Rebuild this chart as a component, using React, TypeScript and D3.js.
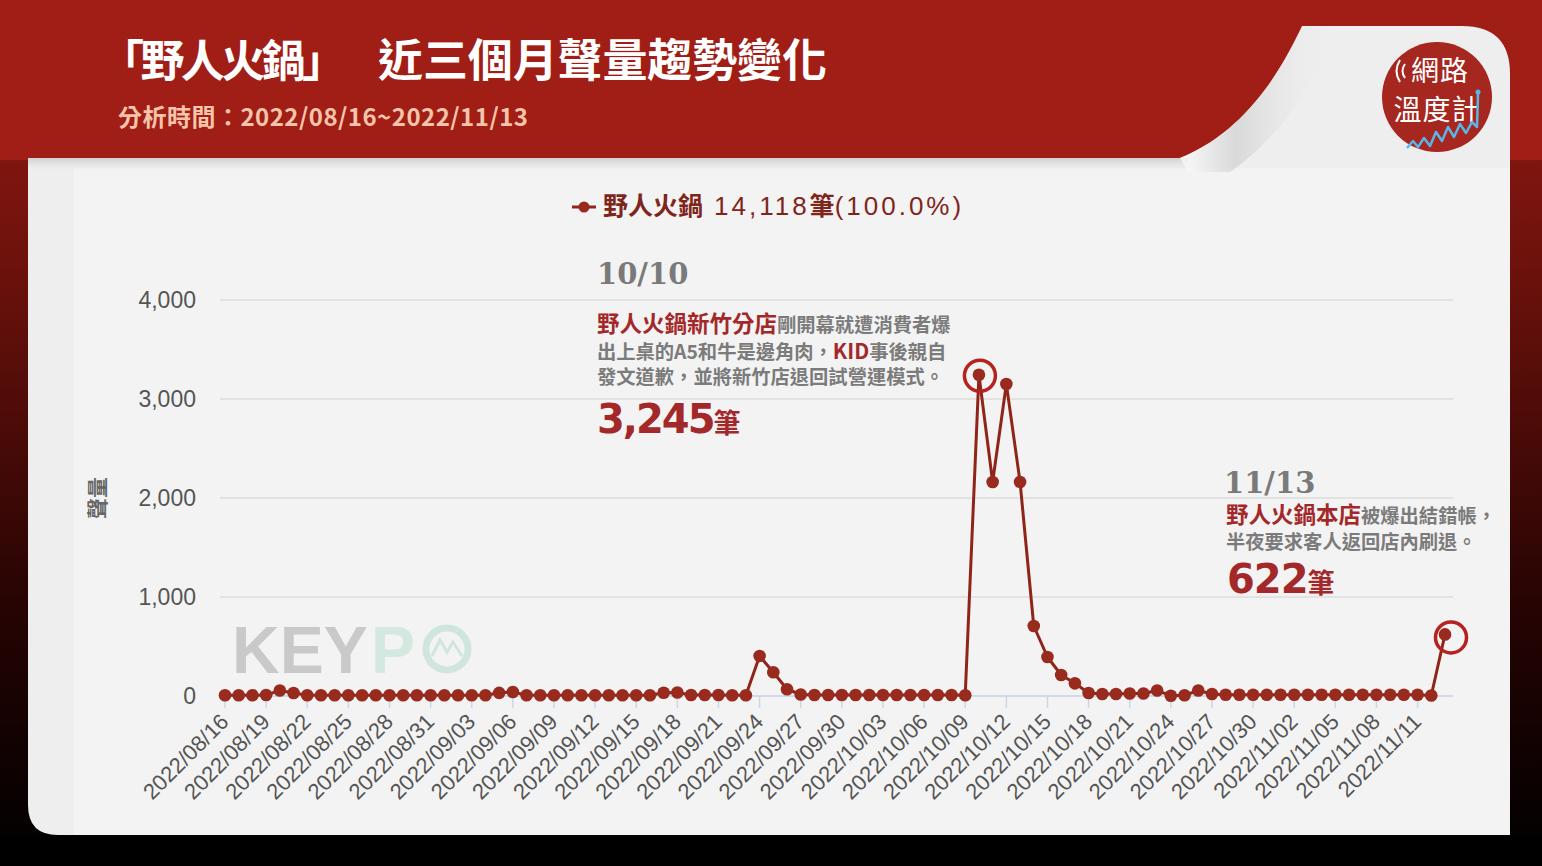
import React from "react";
import * as d3 from "d3";

const W = 1542;
const H = 866;

const startDate = new Date(2022, 7, 16);
const endDate = new Date(2022, 10, 14);
const fmt = d3.timeFormat("%Y/%m/%d");
const dates: string[] = d3.timeDay.range(startDate, endDate).map((d) => fmt(d));

const volume: number[] = [
  8, 8, 8, 10, 55, 30, 8, 8, 8, 8,
  8, 8, 8, 8, 8, 8, 8, 8, 8, 8,
  32, 40, 8, 8, 8, 8, 8, 8, 8, 8,
  8, 8, 33, 35, 10, 10, 10, 8, 8, 404,
  240, 68, 15, 10, 10, 10, 10, 10, 10, 10,
  10, 10, 10, 10, 8, 3245, 2162, 3152, 2162, 707,
  394, 212, 128, 30, 20, 20, 25, 25, 55, 3,
  8, 55, 20, 12, 12, 12, 12, 12, 12, 12,
  12, 12, 12, 12, 12, 12, 12, 12, 5, 622,
];

const yTicks: number[] = [0, 1000, 2000, 3000, 4000];
const seriesName = "野人火鍋";
const legendCount = "14,118";
const legendPct = "(100.0%)";
const titleA = "「野人火鍋」";
const titleB = "近三個月聲量趨勢變化";
const subtitle = "分析時間：2022/08/16~2022/11/13";
const yTitle = "聲量";

const CJK = "'Noto Sans CJK TC', 'Noto Sans CJK SC', sans-serif";
const SANS = "'Liberation Sans', Arial, 'Noto Sans CJK TC', sans-serif";

export default function App() {
  const x = d3.scalePoint<string>().domain(dates).range([225, 1445]);
  const y = d3.scaleLinear().domain([0, 4000]).range([696, 300]);
  const pts = dates.map((d, i) => [x(d) as number, y(volume[i])] as [number, number]);
  const line = d3.line<[number, number]>()(pts) || "";
  const tickDates = dates.filter((_, i) => i % 3 === 0);

  const iPeak = dates.indexOf("2022/10/10");
  const iLast = dates.indexOf("2022/11/13");
  const pPeak = pts[iPeak];
  const pLast = pts[iLast];

  const zig = "M1407,148 L1413,141 L1418,147 L1424,138 L1430,146 L1436,132 L1442,141 L1448,127 L1454,137 L1460,124 L1466,133 L1472,122 L1477,127 L1478,94";

  return (
    <svg width={W} height={H} style={{ position: "absolute", left: 0, top: 0, display: "block" }}>
      <defs>
        <linearGradient id="edge" x1="0" y1="0" x2="0" y2="1">
          <stop offset="0" stopColor="#9a1c14" />
          <stop offset="0.3" stopColor="#6e120c" />
          <stop offset="0.7" stopColor="#260403" />
          <stop offset="1" stopColor="#000" />
        </linearGradient>
        <linearGradient id="topShadow" x1="0" y1="0" x2="0" y2="1">
          <stop offset="0" stopColor="#cfcfcf" />
          <stop offset="1" stopColor="#f0f0f0" stopOpacity="0" />
        </linearGradient>
        <linearGradient id="fold" x1="0" y1="0" x2="1" y2="0">
          <stop offset="0" stopColor="#ffffff" />
          <stop offset="0.35" stopColor="#d0d0d0" />
          <stop offset="1" stopColor="#f2f2f2" stopOpacity="0" />
        </linearGradient>
      </defs>

      {/* background */}
      <rect x={0} y={0} width={W} height={H} fill="url(#edge)" />
      <rect x={0} y={835} width={W} height={31} fill="#000" />
      <rect x={0} y={0} width={W} height={160} fill="#a01e16" />

      {/* panel */}
      <path
        d="M28,158 L1180,158 C1250,130 1285,62 1302,26 L1462,26 Q1510,26 1510,74 L1510,835 L58,835 Q28,835 28,805 Z"
        fill="#eeeeee"
      />
      <rect x={74} y={168} width={1436} height={667} fill="#f3f3f3" />
      <rect x={28} y={158} width={1160} height={14} fill="url(#topShadow)" />
      <path
        d="M1180,158 C1250,130 1285,62 1302,26 L1340,26 C1320,70 1290,130 1230,172 L1188,172 Z"
        fill="url(#fold)"
        opacity={0.7}
      />

      {/* header texts */}
      <text x={100} y={77} fill="#fff" fontFamily={CJK} fontWeight={700} fontSize={44} textLength={246}>
        {titleA}
      </text>
      <text x={378} y={77} fill="#fff" fontFamily={CJK} fontWeight={700} fontSize={45} textLength={449}>
        {titleB}
      </text>
      <text x={118} y={126} fill="#f6c4ab" fontFamily={CJK} fontWeight={700} fontSize={24} textLength={410}>
        {subtitle}
      </text>

      {/* logo */}
      <circle cx={1437} cy={97} r={55} fill="#a5271f" />
      <path d="M1405,64 Q1400,71 1405,78" fill="none" stroke="#fff" strokeWidth={2} />
      <path d="M1400,60 Q1393,71 1400,82" fill="none" stroke="#fff" strokeWidth={2} />
      <text x={1440} y={81} fill="#fff" fontFamily={CJK} fontSize={28} textAnchor="middle" letterSpacing={1}>網路</text>
      <text x={1437} y={120} fill="#fff" fontFamily={CJK} fontSize={28} textAnchor="middle" letterSpacing={1}>溫度計</text>
      <path d={zig} fill="none" stroke="#5bb5e8" strokeWidth={2.5} strokeLinejoin="round" />
      <circle cx={1478} cy={92} r={2.5} fill="#5bb5e8" />

      {/* watermark */}
      <g>
        <text x={232} y={673} fontFamily={SANS} fontWeight={700} fontSize={66} fill="#c9c9c9">KEY</text>
        <text x={371} y={673} fontFamily={SANS} fontWeight={700} fontSize={66} fill="#d3e8de">P</text>
        <circle cx={447} cy={649} r={21} fill="none" stroke="#d0e6dc" strokeWidth={7} />
        <path d="M432,656 L440,640 L447,652 L453,642 L462,656" fill="none" stroke="#d0e6dc" strokeWidth={3} />
      </g>

      {/* grid */}
      {yTicks.map((t) => (
        <line key={t} x1={220} x2={1453} y1={y(t)} y2={y(t)} stroke="#dcdcdc" strokeWidth={1.5} />
      ))}
      <line x1={220} x2={1453} y1={y(0)} y2={y(0)} stroke="#ccd6eb" strokeWidth={1.5} />
      {tickDates.map((d) => (
        <line key={d} x1={x(d)} x2={x(d)} y1={y(0)} y2={y(0) + 12} stroke="#ccd6eb" strokeWidth={1.5} />
      ))}

      {/* y axis labels */}
      {yTicks.map((t) => (
        <text key={t} x={196} y={y(t) + 8} textAnchor="end" fontFamily={SANS} fontSize={23} fill="#555">
          {d3.format(",")(t)}
        </text>
      ))}
      <text
        transform={`translate(105,498) rotate(-90)`}
        textAnchor="middle"
        fontFamily={CJK}
        fontWeight={700}
        fontSize={21}
        fill="#666"
      >
        {yTitle}
      </text>

      {/* x labels */}
      {tickDates.map((d) => (
        <text
          key={d}
          transform={`translate(${(x(d) as number) + 5},${723}) rotate(-45)`}
          textAnchor="end"
          fontFamily={SANS}
          fontSize={22}
          fill="#555"
        >
          {d}
        </text>
      ))}

      {/* series */}
      <path d={line} fill="none" stroke="#8f2519" strokeWidth={3} strokeLinejoin="round" />
      {pts.map((p, i) => (
        <circle key={dates[i]} cx={p[0]} cy={p[1]} r={6.3} fill="#982b1d" />
      ))}

      {/* highlight rings */}
      <circle cx={pPeak[0] + 1} cy={pPeak[1] + 1} r={15.5} fill="none" stroke="#b5221f" strokeWidth={3.5} />
      <circle cx={pLast[0] + 6} cy={pLast[1] + 3} r={15.5} fill="none" stroke="#b5221f" strokeWidth={3.5} />

      {/* legend */}
      <line x1={572} x2={596} y1={207} y2={207} stroke="#8f2519" strokeWidth={3} />
      <circle cx={584} cy={207} r={5.5} fill="#982b1d" />
      <text x={603} y={215} fontFamily={CJK} fontWeight={700} fontSize={25} fill="#7f261c">
        <tspan>{seriesName}</tspan>
        <tspan dx={11} fontFamily={SANS} fontSize={26} fontWeight={400} letterSpacing={3}>{legendCount}</tspan>
        <tspan>筆</tspan>
        <tspan fontFamily={SANS} fontSize={26} fontWeight={400} letterSpacing={3}>{legendPct}</tspan>
      </text>

      {/* annotation 10/10 */}
      <text x={597} y={284} fontFamily="'DejaVu Serif', serif" fontWeight={700} fontSize={29} fill="#7a7a7a">10/10</text>
      <text x={597} y={332} fontFamily={CJK} fontWeight={700}>
        <tspan fill="#a3282a" fontSize={22.5}>{seriesName}新竹分店</tspan>
        <tspan fill="#7b7b7b" fontSize={19.3}>剛開幕就遭消費者爆</tspan>
      </text>
      <text x={597} y={359} fontFamily={CJK} fontWeight={700} fontSize={19.3} fill="#7b7b7b">
        <tspan>出上桌的A5和牛是邊角肉，</tspan>
        <tspan fill="#a3282a" fontSize={21}>KID</tspan>
        <tspan>事後親自</tspan>
      </text>
      <text x={597} y={384} fontFamily={CJK} fontWeight={700} fontSize={19.3} fill="#7b7b7b">
        發文道歉，並將新竹店退回試營運模式。
      </text>
      <text x={597} y={433} fontFamily={CJK} fontWeight={700} fill="#a3282a">
        <tspan fontFamily="'DejaVu Sans', sans-serif" fontSize={40} letterSpacing={-2}>3,245</tspan>
        <tspan fontSize={27}>筆</tspan>
      </text>

      {/* annotation 11/13 */}
      <text x={1224} y={493} fontFamily="'DejaVu Serif', serif" fontWeight={700} fontSize={29} fill="#7a7a7a">11/13</text>
      <text x={1226} y={523} fontFamily={CJK} fontWeight={700}>
        <tspan fill="#a3282a" fontSize={22.5}>{seriesName}本店</tspan>
        <tspan fill="#7b7b7b" fontSize={19.3}>被爆出結錯帳，</tspan>
      </text>
      <text x={1226} y={549} fontFamily={CJK} fontWeight={700} fontSize={19.3} fill="#7b7b7b">
        半夜要求客人返回店內刷退。
      </text>
      <text x={1227} y={593} fontFamily={CJK} fontWeight={700} fill="#a3282a">
        <tspan fontFamily="'DejaVu Sans', sans-serif" fontSize={40} letterSpacing={-1}>622</tspan>
        <tspan fontSize={27}>筆</tspan>
      </text>
    </svg>
  );
}
